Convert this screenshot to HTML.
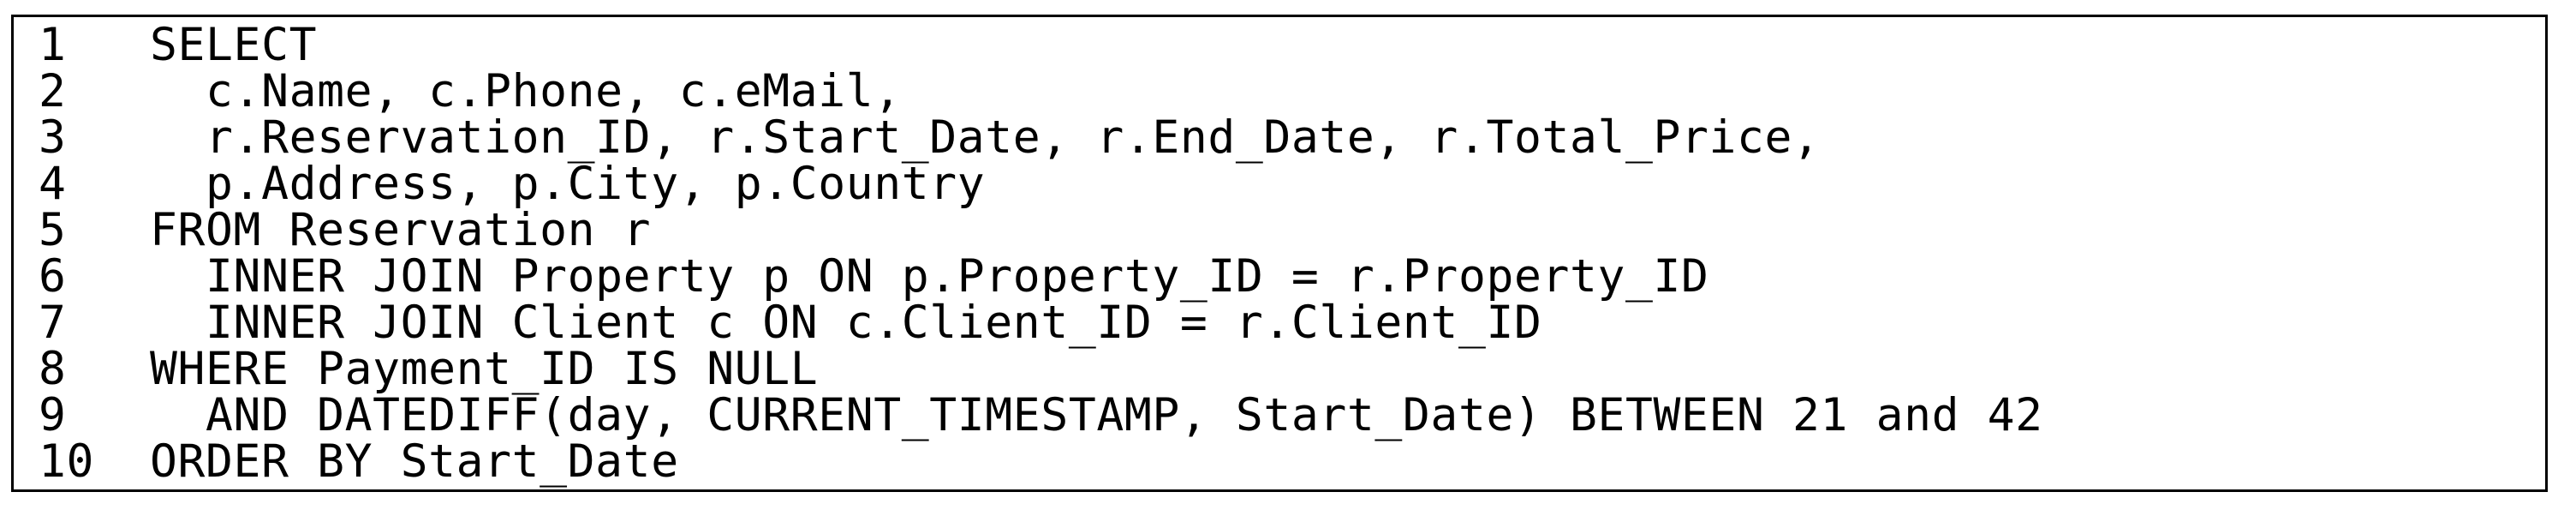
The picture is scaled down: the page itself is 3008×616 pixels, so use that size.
<!DOCTYPE html>
<html><head><meta charset="utf-8"><style>
html,body{margin:0;padding:0;background:#fff;}
body{width:3008px;height:616px;position:relative;overflow:hidden;}
.box{position:absolute;left:13px;top:17px;width:2956px;height:551px;border:3px solid #000;}
pre{position:absolute;left:45px;top:26px;margin:0;font-family:"DejaVu Sans Mono","Liberation Mono",monospace;font-size:53px;letter-spacing:0.6px;line-height:54px;color:#000;}
</style></head><body>
<div class="box"></div>
<pre>1   SELECT
2     c.Name, c.Phone, c.eMail,
3     r.Reservation_ID, r.Start_Date, r.End_Date, r.Total_Price,
4     p.Address, p.City, p.Country
5   FROM Reservation r
6     INNER JOIN Property p ON p.Property_ID = r.Property_ID
7     INNER JOIN Client c ON c.Client_ID = r.Client_ID
8   WHERE Payment_ID IS NULL
9     AND DATEDIFF(day, CURRENT_TIMESTAMP, Start_Date) BETWEEN 21 and 42
10  ORDER BY Start_Date</pre>
</body></html>
